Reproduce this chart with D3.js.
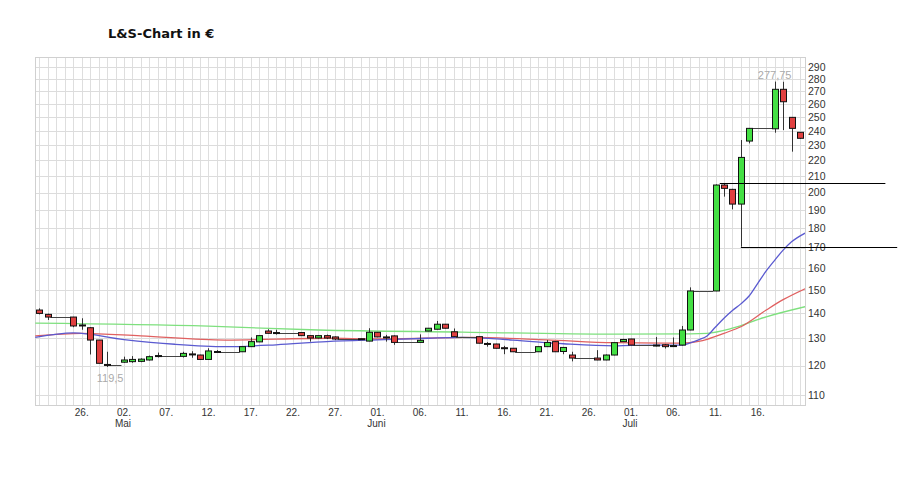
<!DOCTYPE html>
<html><head><meta charset="utf-8">
<script src="https://cdn.jsdelivr.net/npm/d3@7"></script>
<style>body{margin:0;background:#fff}svg{display:block}</style>
</head><body>
<svg id="c" width="903" height="479"></svg>
<script>
// ---- data (one entry per calendar slot, null = no trading) ----
const openV  = [141.4,139.6,null,null,138.5,135.0,134.2,129.4,120.4,null,121.2,121.4,121.5,122.0,123.3,null,null,123.3,124.2,123.8,122.2,125.1,null,null,125.0,126.9,128.7,132.9,132.3,null,null,132.3,131.1,130.2,131.1,130.6,null,null,129.9,129.0,132.4,130.6,131.0,null,null,128.5,132.9,133.6,135.6,132.6,null,null,130.7,128.1,127.9,126.5,126.3,null,null,125.0,126.9,128.8,125.1,123.8,null,null,122.7,122.0,123.8,128.8,129.8,null,null,127.5,127.6,127.0,127.5,133.3,null,null,149.6,204.6,202.0,193.4,233.0,null,null,241.6,271.5,249.9,239.1];
const highV  = [142.1,139.9,null,null,138.6,138.0,134.4,129.4,125.0,null,123.2,123.4,122.6,123.6,124.7,null,null,125.0,125.2,123.9,126.3,125.6,null,null,127.0,130.4,131.3,133.6,133.4,null,null,132.4,131.2,131.3,131.5,130.8,null,null,130.0,134.0,132.5,131.4,131.2,null,null,131.6,134.1,136.9,135.7,133.9,null,null,130.8,128.6,128.0,127.2,126.4,null,null,127.0,129.4,128.9,126.8,125.0,null,null,125.6,124.0,128.6,129.9,129.9,null,null,130.6,127.9,130.4,134.9,151.2,null,null,205.0,205.6,202.3,233.7,242.2,null,null,277.75,277.6,250.0,239.3];
const lowV   = [139.6,137.3,null,null,134.4,133.4,124.0,120.8,119.5,null,121.0,121.0,121.2,121.8,122.9,null,null,122.9,122.8,122.0,122.1,124.6,null,null,124.9,126.8,128.6,131.9,131.5,null,null,131.0,128.8,130.0,129.8,129.4,null,null,129.6,128.9,130.5,128.8,127.6,null,null,128.4,132.8,133.5,133.9,130.6,null,null,128.1,126.9,126.2,124.1,124.9,null,null,124.9,126.8,124.9,124.1,121.5,null,null,121.9,121.9,123.7,128.7,127.4,null,null,127.0,126.2,126.9,127.3,133.2,null,null,149.5,197.7,190.4,170.5,231.4,null,null,238.8,240.7,225.8,234.5];
const closeV = [140.0,138.5,null,null,134.9,135.3,129.4,120.8,120.1,null,122.0,122.2,122.3,123.2,123.6,null,null,124.4,123.9,122.2,125.3,125.0,null,null,126.9,128.8,131.1,132.0,132.2,null,null,131.1,130.2,131.1,130.2,129.8,null,null,129.8,132.4,130.6,130.5,128.5,null,null,129.3,134.0,135.6,134.0,130.7,null,null,128.2,127.9,126.3,126.4,125.0,null,null,126.9,128.5,125.0,126.6,122.7,null,null,122.0,123.8,128.4,129.6,127.5,null,null,127.5,126.9,127.3,133.3,149.6,null,null,204.6,202.6,193.4,222.0,241.9,null,null,271.5,261.7,241.9,234.9];

// moving averages (slot, value)
const blueSlots = [-0.5,4,10,16,22,28,34,40,46,50,56,62,68,70,76,77,78,79,80,81,82,83,84,85,86,87,88,89,90.6];
const blueVals  = [130.4,132.2,129.6,127.8,126.9,127.6,128.8,129.5,130.1,130.4,129.4,128.0,127.2,127.4,127.5,128.3,129.5,131.0,134.5,138.0,141.2,144.0,147.5,153.0,158.7,163.8,168.8,173.0,177.5];
const redSlots  = [-0.5,5,12,22,34,40,51,60,68,76,78,79,81,83,86,88,90.6];
const redVals   = [131.0,132.0,131.0,129.4,130.1,129.8,130.4,129.5,128.4,128.2,128.9,129.7,132.0,134.6,141.4,145.8,150.6];
const greenSlots = [-0.5,20,33,50,68,77,79,82,86,90.6];
const greenVals  = [136.0,134.8,133.3,132.5,131.7,131.8,132.0,134.0,138.6,142.8];

// support / resistance levels
const levelVals  = [206.0, 170.2];
const levelFrom  = [80.5, 83];
const levelTo    = [100.1, 101.5];

const xTickSlots  = [5,10,15,20,25,30,35,40,45,50,55,60,65,70,75,80,85];
const xTickLabels = ["26.","02.","07.","12.","17.","22.","27.","01.","06.","11.","16.","21.","26.","01.","06.","11.","16."];
const monthSlots  = [10,40,70];
const monthLabels = ["Mai","Juni","Juli"];
const yTicks = [110,120,130,140,150,160,170,180,190,200,210,220,230,240,250,260,270,280,290];
const minLabel = {slot:8, value:119.5, text:"119,5"};
const maxLabel = {slot:87, value:277.75, text:"277,75"};

// ---- drawing ----
const svg = d3.select("#c");
const L = 35, R = 805, T = 57, B = 405;
const x = d3.scaleLinear().domain([-0.53, 90.59]).range([L, R]);
const y = d3.scaleLog().domain([106.8, 298.7]).range([B, T]);
const nSlots = closeV.length;
const bw = 7;

svg.append("rect").attr("width",903).attr("height",479).attr("fill","#fff");

svg.append("text").attr("x",108).attr("y",38).attr("font-family","DejaVu Sans, Verdana, sans-serif")
  .attr("font-weight","bold").attr("font-size",13).attr("fill","#111").text("L&S-Chart in €");

const g = svg.append("g");
// grid
g.selectAll(".vg").data(d3.range(nSlots)).join("line")
  .attr("x1",d=>Math.round(x(d))+0.5).attr("x2",d=>Math.round(x(d))+0.5)
  .attr("y1",T).attr("y2",B).attr("stroke","#dedede").attr("stroke-width",1);
g.selectAll(".hg").data(yTicks).join("line")
  .attr("x1",L).attr("x2",R).attr("y1",d=>Math.round(y(d))+0.5).attr("y2",d=>Math.round(y(d))+0.5)
  .attr("stroke","#dcdcdc").attr("stroke-width",1);
g.append("rect").attr("x",L+0.5).attr("y",T+0.5).attr("width",R-L).attr("height",B-T)
  .attr("fill","none").attr("stroke","#d0d0d0");

// y axis labels
svg.append("g").selectAll("text").data(yTicks).join("text")
  .attr("x",R+3).attr("y",d=>y(d)).attr("dy","0.35em")
  .attr("font-family","Liberation Sans, Arial, sans-serif").attr("font-size",10.5).attr("fill","#333")
  .text(d=>d);

// x axis labels
svg.append("g").selectAll("text").data(xTickSlots).join("text")
  .attr("x",d=>x(d)).attr("y",416).attr("text-anchor","middle")
  .attr("font-family","Liberation Sans, Arial, sans-serif").attr("font-size",10).attr("fill","#333")
  .text((d,i)=>xTickLabels[i]);
svg.append("g").selectAll("text").data(monthSlots).join("text")
  .attr("x",d=>x(d)-1).attr("y",427).attr("text-anchor","middle")
  .attr("font-family","Liberation Sans, Arial, sans-serif").attr("font-size",10).attr("fill","#333")
  .text((d,i)=>monthLabels[i]);

// moving averages
svg.append("clipPath").attr("id","pc").append("rect").attr("x",L).attr("y",T).attr("width",R-L).attr("height",B-T);
function maLine(sl, vals, col){
  const pts = sl.map((s,i)=>[s,vals[i]]);
  svg.append("path").attr("clip-path","url(#pc)")
    .attr("d", d3.line().x(d=>x(d[0])).y(d=>y(d[1])).curve(d3.curveMonotoneX)(pts))
    .attr("fill","none").attr("stroke",col).attr("stroke-width",1.3);
}
maLine(greenSlots, greenVals, "#7ee07e");
maLine(redSlots, redVals, "#e06060");
maLine(blueSlots, blueVals, "#5a5ad0");

// flat lines on non-trading days
const cg = svg.append("g");
for (let i=0;i<nSlots;i++){
  if (closeV[i]===null){
    let p=i-1; while(p>=0 && closeV[p]===null) p--;
    const v = closeV[p];
    cg.append("line").attr("x1",x(i)-x(1)+x(0)+bw/2-1).attr("x2",x(i)+x(1)-x(0)-bw/2+1)
      .attr("y1",Math.round(y(v))+0.5).attr("y2",Math.round(y(v))+0.5)
      .attr("stroke","#444").attr("stroke-width",1);
  }
}
// candles
const idx = d3.range(nSlots).filter(i=>closeV[i]!==null);
cg.selectAll(".wick").data(idx).join("line")
  .attr("x1",i=>Math.round(x(i))+0.5).attr("x2",i=>Math.round(x(i))+0.5)
  .attr("y1",i=>y(highV[i])).attr("y2",i=>y(lowV[i]))
  .attr("stroke","#333").attr("stroke-width",1);
cg.selectAll(".body").data(idx).join("rect")
  .attr("x",i=>Math.round(x(i))-3+0.5)
  .attr("width",bw-1)
  .attr("y",i=>y(Math.max(openV[i],closeV[i])))
  .attr("height",i=>Math.max(1, y(Math.min(openV[i],closeV[i]))-y(Math.max(openV[i],closeV[i]))))
  .attr("fill",i=> closeV[i]>=openV[i] ? "#44e044" : "#e04040")
  .attr("stroke","#111").attr("stroke-width",1);

// high/low annotations
svg.append("text").attr("x",x(minLabel.slot)+3).attr("y",y(minLabel.value)+15).attr("text-anchor","middle")
  .attr("font-family","Liberation Sans, Arial, sans-serif").attr("font-size",11).attr("fill","#aaa").text(minLabel.text);
svg.append("text").attr("x",x(maxLabel.slot)).attr("y",y(maxLabel.value)-3).attr("text-anchor","middle")
  .attr("font-family","Liberation Sans, Arial, sans-serif").attr("font-size",11).attr("fill","#aaa").text(maxLabel.text);

// support/resistance lines
svg.append("g").selectAll("line").data(levelVals).join("line")
  .attr("x1",(d,i)=>x(levelFrom[i])).attr("x2",(d,i)=>x(levelTo[i]))
  .attr("y1",d=>Math.round(y(d))+0.5).attr("y2",d=>Math.round(y(d))+0.5)
  .attr("stroke","#000").attr("stroke-width",1.2);
</script>
</body></html>
